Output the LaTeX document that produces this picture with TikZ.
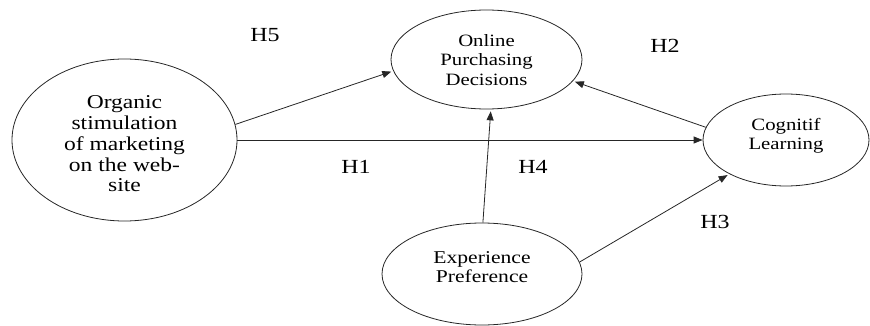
\documentclass[tikz,border=0pt]{standalone}
\usepackage{fontspec}
\setmainfont[FakeStretch=1.2]{Liberation Serif}
\usetikzlibrary{arrows.meta,shapes.geometric}
\begin{document}
\begin{tikzpicture}[x=1pt,y=-1pt,
  ell/.style={draw=black!85,line width=0.8pt,ellipse,inner sep=0pt},
  txt/.style={align=center,inner sep=0pt},
  arr/.style={draw=black!85,line width=0.8pt,-{Triangle[length=9pt,width=7pt]}},
  hyp/.style={font=\fontsize{20}{22}\selectfont}]
\useasboundingbox (0,0) rectangle (870,326);
\node[ell,minimum width=225pt,minimum height=162pt] (org) at (124.5,140) {};
\node[ell,minimum width=191pt,minimum height=99pt] (onl) at (486.5,59.5) {};
\node[ell,minimum width=166pt,minimum height=92pt] (cog) at (786,140) {};
\node[ell,minimum width=200pt,minimum height=102pt] (exp) at (482,274) {};
\node[txt,font=\fontsize{19.6}{20.7}\selectfont] (orgt) at (124.5,144)
  {Organic\\stimulation\\of marketing\\on the web-\\site};
\node[txt,font=\fontsize{17.3}{19.2}\selectfont] (onlt) at (486.5,60)
  {Online\\Purchasing\\Decisions};
\node[txt,font=\fontsize{17.3}{19.3}\selectfont] (cogt) at (786,136)
  {Cognitif\\Learning};
\node[txt,font=\fontsize{18}{19}\selectfont] (expt) at (482,267)
  {Experience\\Preference};
\draw[arr,shorten >=2pt] (org.8) -- (onl.187);
\draw[arr] (org.east) -- (cog.west);
\draw[arr,shorten >=2pt] (exp.89) -- (onl.-85);
\draw[arr,shorten >=2pt] (cog.171) -- (onl.-14);
\draw[arr,shorten >=2pt] (exp.7) -- (cog.211);
\node[hyp] (h5) at (265,35) {H5};
\node[hyp] (h1) at (356,167) {H1};
\node[hyp] (h2) at (665,46) {H2};
\node[hyp] (h4) at (533,167) {H4};
\node[hyp] (h3) at (715,222) {H3};
\end{tikzpicture}
\end{document}
